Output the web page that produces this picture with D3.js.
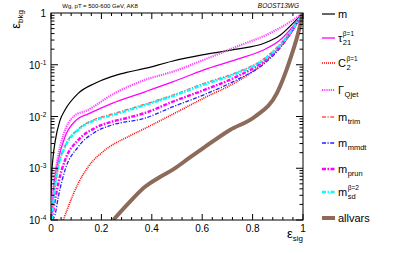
<!DOCTYPE html>
<html>
<head>
<meta charset="utf-8">
<script src="https://cdn.jsdelivr.net/npm/d3@7"></script>
<style>
  body { margin: 0; background: #fff; }
  text { font-family: "Liberation Sans", Arial, sans-serif; }
</style>
</head>
<body>
<div id="chart"></div>
<script>
// signal efficiency (x) and background efficiency (y) for each tagger
var sM = [0, 0.003, 0.008, 0.016, 0.036, 0.056, 0.108, 0.175, 0.24, 0.3, 0.373, 0.48, 0.6, 0.737, 0.843, 0.909, 0.96, 1];
var bM = [0.0003, 0.00079, 0.0016, 0.0032, 0.0085, 0.0135, 0.028, 0.044, 0.059, 0.071, 0.085, 0.117, 0.155, 0.2, 0.257, 0.37, 0.63, 1];

var sTau = [0.004, 0.009, 0.029, 0.056, 0.1, 0.148, 0.24, 0.373, 0.485, 0.604, 0.737, 0.843, 0.909, 0.96, 1];
var bTau = [0.0001, 0.00033, 0.00145, 0.0041, 0.0085, 0.0112, 0.0178, 0.030, 0.047, 0.079, 0.127, 0.193, 0.30, 0.55, 1];

var sC2 = [0.049, 0.08, 0.108, 0.148, 0.214, 0.307, 0.373, 0.485, 0.604, 0.737, 0.843, 0.909, 0.96, 1];
var bC2 = [0.0001, 0.00025, 0.00051, 0.00107, 0.00224, 0.0041, 0.0059, 0.0112, 0.0224, 0.047, 0.107, 0.224, 0.47, 1];

var sQjet = [0.003, 0.008, 0.025, 0.05, 0.09, 0.148, 0.24, 0.373, 0.485, 0.604, 0.737, 0.87, 0.96, 1];
var bQjet = [0.0001, 0.00032, 0.0014, 0.0045, 0.01, 0.0135, 0.026, 0.051, 0.074, 0.123, 0.224, 0.41, 0.73, 1];

var sTrim = [0.003, 0.016, 0.029, 0.056, 0.108, 0.175, 0.24, 0.373, 0.485, 0.604, 0.737, 0.843, 0.909, 0.96, 1];
var bTrim = [0.0001, 0.00045, 0.0011, 0.0027, 0.0057, 0.0088, 0.011, 0.0172, 0.026, 0.043, 0.071, 0.128, 0.25, 0.51, 1];

var sMmdt = [0.006, 0.016, 0.029, 0.056, 0.108, 0.175, 0.24, 0.373, 0.485, 0.604, 0.737, 0.843, 0.909, 0.96, 1];
var bMmdt = [0.0001, 0.000126, 0.00028, 0.00093, 0.0026, 0.005, 0.0068, 0.0093, 0.0155, 0.026, 0.051, 0.102, 0.21, 0.47, 1];

var sPrun = [0.004, 0.01, 0.029, 0.056, 0.108, 0.175, 0.24, 0.307, 0.373, 0.485, 0.604, 0.737, 0.843, 0.909, 0.96, 1];
var bPrun = [0.0001, 0.00016, 0.00051, 0.00145, 0.0035, 0.006, 0.0079, 0.0095, 0.0117, 0.0195, 0.032, 0.059, 0.115, 0.224, 0.48, 1];

var sSd = [0.003, 0.016, 0.029, 0.056, 0.108, 0.175, 0.24, 0.373, 0.485, 0.604, 0.737, 0.843, 0.909, 0.96, 1];
var bSd = [0.0001, 0.00044, 0.00107, 0.0026, 0.0055, 0.0085, 0.0105, 0.0166, 0.025, 0.041, 0.068, 0.123, 0.24, 0.5, 1];

var sAll = [0.247, 0.307, 0.373, 0.426, 0.485, 0.55, 0.604, 0.71, 0.81, 0.896, 0.948, 0.981, 1];
var bAll = [0.0001, 0.00021, 0.00044, 0.00065, 0.00095, 0.0016, 0.00245, 0.0055, 0.01, 0.028, 0.123, 0.41, 1];

var xTicks = [0, 0.2, 0.4, 0.6, 0.8, 1];
var xTickLabels = ['0', '0.2', '0.4', '0.6', '0.8', '1'];
var yTicks = [1, 0.1, 0.01, 0.001, 0.0001];
var yTickExp = ['', '-1', '-2', '-3', '-4'];

// legend: main text, superscript, subscript, colour, width, dash
var series = [
	{ s: sM, b: bM, main: 'm', sup: '', sub: '', color: '#000000', w: 1.2, dash: null },
	{ s: sTau, b: bTau, main: 'τ', sup: 'β=1', sub: '21', color: '#ff00ff', w: 1.3, dash: null },
	{ s: sC2, b: bC2, main: 'C', sup: 'β=1', sub: '2', color: '#ff0000', w: 1.6, dash: '1,1' },
	{ s: sQjet, b: bQjet, main: 'Γ', sup: '', sub: 'Qjet', color: '#ff44ff', w: 2.2, dash: '1.2,1' },
	{ s: sTrim, b: bTrim, main: 'm', sup: '', sub: 'trim', color: '#ff5555', w: 1.6, dash: '4,1.5,1.2,1.5' },
	{ s: sMmdt, b: bMmdt, main: 'm', sup: '', sub: 'mmdt', color: '#2222ff', w: 1.3, dash: '4,1.5,1.2,1.5' },
	{ s: sPrun, b: bPrun, main: 'm', sup: '', sub: 'prun', color: '#ff00ff', w: 2.4, dash: '4,1.5,1.5,1.5' },
	{ s: sSd, b: bSd, main: 'm', sup: 'β=2', sub: 'sd', color: '#00ffff', w: 2.4, dash: '4,1.5,1.5,1.5' },
	{ s: sAll, b: bAll, main: 'allvars', sup: '', sub: '', color: '#8c6b5a', w: 4, dash: null }
];
var legendY = [14, 38, 63, 90, 117, 143, 169, 192, 218];

var width = 399;
var height = 254;
var pLeft = 51, pRight = 303, pTop = 13, pBottom = 220;

var svg = d3.select('#chart').append('svg')
	.attr('width', width)
	.attr('height', height);

var xScale = d3.scaleLinear().domain([0, 1]).range([pLeft, pRight]);
var yScale = d3.scaleLog().domain([0.0001, 1]).range([pBottom, pTop]);

svg.append('clipPath').attr('id', 'clip')
	.append('rect')
	.attr('x', pLeft).attr('y', pTop)
	.attr('width', pRight - pLeft).attr('height', pBottom - pTop);

var line = d3.line()
	.x(function (d) { return xScale(d[0]); })
	.y(function (d) { return yScale(d[1]); })
	.curve(d3.curveMonotoneX);

var plot = svg.append('g').attr('clip-path', 'url(#clip)');
series.forEach(function (sr) {
	var pts = sr.s.map(function (v, i) { return [v, sr.b[i]]; });
	plot.append('path')
		.attr('d', line(pts))
		.attr('fill', 'none')
		.attr('stroke', sr.color)
		.attr('stroke-width', sr.w)
		.attr('stroke-dasharray', sr.dash);
});

// frame
svg.append('rect')
	.attr('x', pLeft).attr('y', pTop)
	.attr('width', pRight - pLeft).attr('height', pBottom - pTop)
	.attr('fill', 'none').attr('stroke', '#000').attr('stroke-width', 1);

// x ticks (bottom and top)
var xt = svg.append('g').attr('stroke', '#000').attr('stroke-width', 1);
d3.range(0, 1.0001, 0.04).forEach(function (v, i) {
	var len = (i % 5 == 0) ? 6 : 3;
	var x = xScale(v);
	xt.append('line').attr('x1', x).attr('x2', x).attr('y1', pBottom).attr('y2', pBottom - len);
	xt.append('line').attr('x1', x).attr('x2', x).attr('y1', pTop).attr('y2', pTop + len);
});

// y ticks (left and right)
var yt = svg.append('g').attr('stroke', '#000').attr('stroke-width', 1);
[-4, -3, -2, -1].forEach(function (e) {
	for (var k = 1; k <= 9; k++) {
		var y = yScale(k * Math.pow(10, e));
		var len = (k == 1) ? 7 : 3.5;
		yt.append('line').attr('x1', pLeft).attr('x2', pLeft + len).attr('y1', y).attr('y2', y);
		yt.append('line').attr('x1', pRight).attr('x2', pRight - len).attr('y1', y).attr('y2', y);
	}
});

// x tick labels
xTicks.forEach(function (v, i) {
	svg.append('text')
		.attr('x', xScale(v))
		.attr('y', 232)
		.attr('text-anchor', 'middle')
		.attr('font-size', 10)
		.text(xTickLabels[i]);
});

// y tick labels
yTicks.forEach(function (v, i) {
	var y = yScale(v) + 4;
	if (yTickExp[i] == '') {
		svg.append('text').attr('x', 46).attr('y', y)
			.attr('text-anchor', 'end').attr('font-size', 10).text('1');
	} else {
		svg.append('text').attr('x', 40).attr('y', y)
			.attr('text-anchor', 'end').attr('font-size', 10).text('10');
		svg.append('text').attr('x', 40.5).attr('y', y - 4)
			.attr('font-size', 6.5).text(yTickExp[i]);
	}
});

// axis titles
var yl = svg.append('text')
	.attr('transform', 'translate(20,10) rotate(-90)')
	.attr('text-anchor', 'end');
yl.append('tspan').attr('font-size', 13).text('ε');
yl.append('tspan').attr('font-size', 8).attr('dy', 3).text('bkg');

var xl = svg.append('text')
	.attr('x', 303).attr('y', 238)
	.attr('text-anchor', 'end');
xl.append('tspan').attr('font-size', 13).text('ε');
xl.append('tspan').attr('font-size', 8).attr('dy', 3).text('sig');

// header texts
svg.append('text')
	.attr('x', 100).attr('y', 8)
	.attr('text-anchor', 'middle')
	.attr('font-size', 6)
	.text('Wg, pT = 500-600 GeV, AK8');
svg.append('text')
	.attr('x', 299).attr('y', 8)
	.attr('text-anchor', 'end')
	.attr('font-size', 6.5)
	.attr('font-style', 'italic')
	.text('BOOST13WG');

// legend
series.forEach(function (sr, i) {
	var y = legendY[i];
	svg.append('line')
		.attr('x1', 322).attr('x2', 335)
		.attr('y1', y).attr('y2', y)
		.attr('stroke', sr.color)
		.attr('stroke-width', sr.w)
		.attr('stroke-dasharray', sr.dash);
	var t = svg.append('text')
		.attr('x', 338).attr('y', y + 4)
		.attr('font-size', 11)
		.text(sr.main);
	var w = t.node().getComputedTextLength();
	if (sr.sup != '') {
		svg.append('text').attr('x', 338 + w + 0.5).attr('y', y - 2)
			.attr('font-size', 6.5).text(sr.sup);
	}
	if (sr.sub != '') {
		svg.append('text').attr('x', 338 + w + 0.5).attr('y', y + 7)
			.attr('font-size', 7.5).text(sr.sub);
	}
});
</script>
</body>
</html>
